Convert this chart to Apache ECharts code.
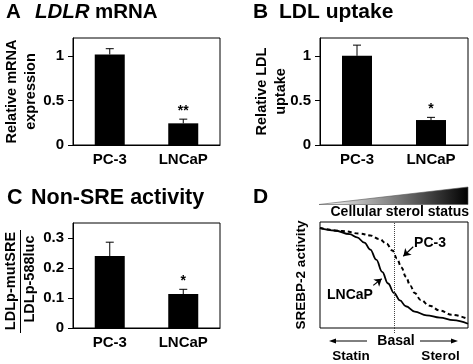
<!DOCTYPE html>
<html><head><meta charset="utf-8">
<script src="https://cdn.jsdelivr.net/npm/echarts@6/dist/echarts.min.js"></script>
<style>html,body{margin:0;padding:0;background:#fff}#c{width:473px;height:364px}</style>
</head><body><div id="c"></div>
<script>
// ---------- data ----------
const categories = ['PC-3', 'LNCaP'];
const ldlrMrna = [1.015, 0.243];
const ldlrMrnaErr = [0.065, 0.047];
const ldlrMrnaSig = ['', '**'];
const ldlUptake = [1.0, 0.28];
const ldlUptakeErr = [0.12, 0.03];
const ldlUptakeSig = ['', '*'];
const nonSre = [0.24, 0.113];
const nonSreErr = [0.046, 0.016];
const nonSreSig = ['', '*'];
const ticksAB = [0, 0.5, 1];
const ticksC = [0, 0.1, 0.2, 0.3];
// schematic panel D (sterol status 0-100, activity 0-100)
const lncapX = [0, 10, 20, 25, 30, 34, 38, 42, 46, 50, 54, 58, 64, 72, 81, 90, 100];
const lncapY = [94.3, 92, 88.5, 85.5, 80.5, 74, 64.5, 53, 42, 33, 26, 20.5, 15.5, 12, 9.8, 7.5, 4];
const pc3X = [0, 15, 27, 34, 40, 45, 49, 52, 55, 58, 61, 64, 68, 74, 81, 89, 100];
const pc3Y = [94.3, 91.5, 89, 87.3, 84, 79.5, 73, 65.5, 57, 48.5, 40, 33, 26.5, 21, 16.5, 12.5, 8.5];
const basalX = 50;

// ---------- helpers ----------
const FF = '"Liberation Sans", Arial, Helvetica, sans-serif';
const chart = echarts.init(document.getElementById('c'), null, {renderer: 'canvas'});

function gridOf(left, top, width, height) {
  return {left, top, width, height, show: true, borderColor: '#000', borderWidth: 1, backgroundColor: 'transparent', containLabel: false};
}
function catAxis(i) {
  return {
    type: 'category', gridIndex: i, data: categories,
    axisLine: {lineStyle: {color: '#000', width: 1}},
    axisTick: {length: 5, lineStyle: {color: '#000', width: 1}},
    axisLabel: {color: '#000', fontSize: 15, fontWeight: 'bold', fontFamily: FF, margin: 7}
  };
}
function valAxis(i, max, ticks, name, nameGap) {
  return {
    type: 'value', gridIndex: i, min: 0, max: max,
    axisLine: {show: true, lineStyle: {color: '#000', width: 1}},
    axisTick: {show: true, length: 5, lineStyle: {color: '#000', width: 1}, customValues: ticks},
    axisLabel: {color: '#000', fontSize: 15, fontWeight: 'bold', fontFamily: FF, margin: 9, customValues: ticks,
      formatter: v => String(v)},
    splitLine: {show: false},
    name: name, nameLocation: 'middle', nameRotate: 90, nameGap: nameGap, nameMoveOverlap: false,
    nameTextStyle: {color: '#000', fontSize: 14.5, fontWeight: 'bold', fontFamily: FF, lineHeight: 19}
  };
}
function barSeries(i, vals) {
  return {type: 'bar', xAxisIndex: i, yAxisIndex: i, data: vals, barWidth: 30,
    itemStyle: {color: '#000'}, silent: true};
}
function errSeries(i, vals, errs, sigs) {
  return {
    type: 'custom', xAxisIndex: i, yAxisIndex: i, z: 5, silent: true,
    data: vals.map((v, k) => [k, v, v + errs[k]]),
    renderItem(params, api) {
      const k = params.dataIndex;
      const p0 = api.coord([api.value(0), api.value(1)]);
      const p1 = api.coord([api.value(0), api.value(2)]);
      const half = 4;
      const children = [
        {type: 'line', shape: {x1: p0[0], y1: p0[1], x2: p1[0], y2: p1[1]}, style: {stroke: '#000', lineWidth: 1}},
        {type: 'line', shape: {x1: p1[0] - half, y1: p1[1], x2: p1[0] + half, y2: p1[1]}, style: {stroke: '#000', lineWidth: 1}}
      ];
      if (sigs[k]) {
        children.push({type: 'text', x: p1[0], y: p1[1] - 1,
          style: {text: sigs[k], fill: '#000', font: 'bold 14px ' + FF, align: 'center', verticalAlign: 'bottom'}});
      }
      return {type: 'group', children};
    }
  };
}
function txt(x, y, text, font, align, rot) {
  return {type: 'text', x, y, rotation: rot || 0, silent: true,
    style: {text, fill: '#000', font, align: align || 'left', verticalAlign: 'middle'}};
}

const lncapData = lncapX.map((x, k) => [x, lncapY[k]]);
const pc3Data = pc3X.map((x, k) => [x, pc3Y[k]]);

const option = {
  animation: false,
  backgroundColor: '#fff',
  grid: [
    gridOf(73, 38, 147, 107),
    gridOf(320, 38, 148, 107),
    gridOf(73, 223, 147, 105),
    gridOf(320, 222, 148, 106)
  ],
  xAxis: [
    catAxis(0), catAxis(1), catAxis(2),
    {type: 'value', gridIndex: 3, min: 0, max: 100, show: false}
  ],
  yAxis: [
    valAxis(0, 1.2, ticksAB, 'Relative mRNA\nexpression', 33),
    valAxis(1, 1.2, ticksAB, 'Relative LDL\nuptake', 29.5),
    valAxis(2, 0.35, ticksC, '', 30),
    {type: 'value', gridIndex: 3, min: 0, max: 100,
      axisLine: {show: false}, axisTick: {show: false}, axisLabel: {show: false}, splitLine: {show: false},
      name: 'SREBP-2 activity', nameLocation: 'middle', nameRotate: 90, nameGap: 12, nameMoveOverlap: false,
      nameTextStyle: {color: '#000', fontSize: 13.5, fontWeight: 'bold', fontFamily: FF}}
  ],
  series: [
    barSeries(0, ldlrMrna), errSeries(0, ldlrMrna, ldlrMrnaErr, ldlrMrnaSig),
    barSeries(1, ldlUptake), errSeries(1, ldlUptake, ldlUptakeErr, ldlUptakeSig),
    barSeries(2, nonSre), errSeries(2, nonSre, nonSreErr, nonSreSig),
    {
      type: 'line', xAxisIndex: 3, yAxisIndex: 3, data: lncapData, smooth: 0.4, smoothMonotone: 'x', symbol: 'none',
      lineStyle: {color: '#000', width: 1.8}, silent: true,
      markLine: {
        silent: true, animation: false, label: {show: false}, symbol: 'none',
        data: [
          {xAxis: basalX, lineStyle: {type: 'dotted', color: '#444', width: 1}},
          [{coord: [36.0, 40.2], symbol: 'none', lineStyle: {type: 'solid', color: '#000', width: 1.2}},
           {coord: [41.7, 46.5], symbol: 'arrow', symbolSize: 7}],
          [{coord: [63.0, 76.6], symbol: 'none', lineStyle: {type: 'solid', color: '#000', width: 1.2}},
           {coord: [56.3, 67.7], symbol: 'arrow', symbolSize: 7}]
        ]
      }
    },
    {
      type: 'line', xAxisIndex: 3, yAxisIndex: 3, data: pc3Data, smooth: 0.4, smoothMonotone: 'x', symbol: 'none',
      lineStyle: {color: '#000', width: 2, type: [4, 3]}, silent: true
    }
  ],
  graphic: [
    // titles
    txt(6, 12, 'A', 'bold 20.5px ' + FF), txt(35, 12, 'LDLR', 'italic bold 20.5px ' + FF), txt(95, 12, 'mRNA', 'bold 20.5px ' + FF),
    txt(253, 12, 'B', 'bold 21px ' + FF), txt(279, 12, 'LDL uptake', 'bold 21px ' + FF),
    txt(7, 198, 'C', 'bold 21.5px ' + FF), txt(31, 198, 'Non-SRE activity', 'bold 21.5px ' + FF),
    txt(253, 197, 'D', 'bold 21px ' + FF),
    // panel C fraction y-label
    txt(11, 281, 'LDLp-mutSRE', 'bold 14.5px ' + FF, 'center', Math.PI / 2),
    {type: 'line', silent: true, shape: {x1: 20.5, y1: 230, x2: 20.5, y2: 333}, style: {stroke: '#000', lineWidth: 1}},
    txt(30, 279, 'LDLp-588luc', 'bold 14.5px ' + FF, 'center', Math.PI / 2),
    // panel D gradient wedge
    {type: 'polygon', silent: true, shape: {points: [[319, 204.5], [468, 187], [468, 204.5]]},
      style: {fill: new echarts.graphic.LinearGradient(0, 0, 1, 0, [{offset: 0, color: '#ffffff'}, {offset: 1, color: '#000000'}]),
        stroke: '#555', lineWidth: 0.6}},
    txt(469, 212.5, 'Cellular sterol status', 'bold 14px ' + FF, 'right'),
    // annotations
    txt(430, 243, 'PC-3', 'bold 14px ' + FF, 'center'),
    txt(350, 295, 'LNCaP', 'bold 14px ' + FF, 'center'),
    // bottom axis description
    {type: 'line', silent: true, shape: {x1: 394.5, y1: 328, x2: 394.5, y2: 333}, style: {stroke: '#444', lineWidth: 1, lineDash: [1, 1]}},
    txt(396, 341.5, 'Basal', 'bold 14px ' + FF, 'center'),
    {type: 'line', silent: true, shape: {x1: 367, y1: 341, x2: 333, y2: 341}, style: {stroke: '#000', lineWidth: 1}},
    {type: 'polygon', silent: true, shape: {points: [[329, 341], [336, 338.5], [336, 343.5]]}, style: {fill: '#000'}},
    {type: 'line', silent: true, shape: {x1: 420, y1: 341, x2: 454, y2: 341}, style: {stroke: '#000', lineWidth: 1}},
    {type: 'polygon', silent: true, shape: {points: [[458, 341], [451, 338.5], [451, 343.5]]}, style: {fill: '#000'}},
    txt(351, 356, 'Statin', 'bold 13.5px ' + FF, 'center'),
    txt(440.5, 356, 'Sterol', 'bold 13.5px ' + FF, 'center')
  ]
};
chart.setOption(option);
</script>
</body></html>
